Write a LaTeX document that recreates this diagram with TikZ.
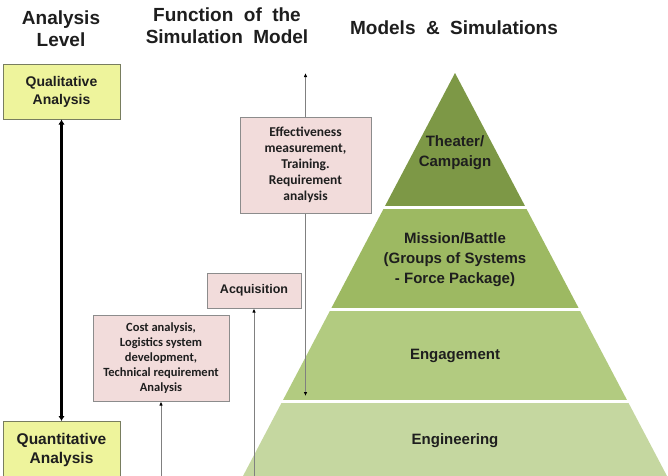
\documentclass[tikz,border=0pt]{standalone}
\usepackage{fontspec}
\setmainfont{Liberation Sans}
\newfontfamily\boxfont{Carlito}
\usetikzlibrary{arrows.meta}
\newcommand\hdrfont{\bfseries\fontsize{19}{22}\selectfont\spaceskip 0.55em\relax}
\definecolor{bandA}{RGB}{125,152,70}
\definecolor{bandB}{RGB}{157,185,98}
\definecolor{bandC}{RGB}{178,203,128}
\definecolor{bandD}{RGB}{197,215,160}
\definecolor{lvlfill}{RGB}{238,244,156}
\definecolor{lvlborder}{RGB}{120,125,95}
\definecolor{pinkfill}{RGB}{242,220,219}
\definecolor{pinkborder}{RGB}{140,140,140}
\definecolor{txt}{RGB}{30,30,30}
\begin{document}
\begin{tikzpicture}[x=1pt,y=-1pt,
  hdr/.style={font=\hdrfont, text=txt, align=center, inner sep=0},
  lvlbox/.style={draw=lvlborder, fill=lvlfill, line width=1pt, inner sep=0, align=center, text=txt},
  fnbox/.style={draw=pinkborder, fill=pinkfill, line width=1pt, inner sep=0, align=center, text=txt,
     font=\boxfont\bfseries\fontsize{12.5}{15}\selectfont},
  pyr/.style={font=\bfseries\fontsize{15}{20}\selectfont, text=txt, align=center, inner sep=0},
  thinarrow/.style={draw=gray, line width=1pt, -{Latex[length=4pt,width=3.5pt,color=black]}},
  thickarrow/.style={draw=black, line width=2.6pt, {Latex[length=5pt,width=6.5pt]}-{Latex[length=5pt,width=6.5pt]}},
  sep/.style={draw=white, line width=3pt}
]
\clip (0,0) rectangle (668,475);
\fill[white] (0,0) rectangle (668,475);

% headers
\node[hdr] (h1) at (61,28.5) {Analysis\\Level};
\node[hdr] (h2) at (227,26) {Function of the\\Simulation Model};
\node[hdr] (h3) at (454,28) {Models \& Simulations};

% pyramid
\fill[bandA] (455,73) -- (525.5,207) -- (384.5,207) -- cycle;
\fill[bandB] (384.5,207) -- (525.5,207) -- (579.1,309) -- (330.9,309) -- cycle;
\fill[bandC] (330.9,309) -- (579.1,309) -- (627.5,401) -- (282.5,401) -- cycle;
\fill[bandD] (282.5,401) -- (627.5,401) -- (669.1,480) -- (240.9,480) -- cycle;
\draw[sep] (382,207) -- (528,207);
\draw[sep] (328,309) -- (582,309);
\draw[sep] (280,401) -- (630,401);

\node[pyr] (theater) at (455,153) {Theater/\\Campaign};
\node[pyr] (mission) at (455,260) {Mission/Battle\\(Groups of Systems\\- Force Package)};
\node[pyr] (engage) at (455,356) {Engagement};
\node[pyr] (engin) at (455,441) {Engineering};

% analysis level boxes
\node[lvlbox, minimum width=117pt, minimum height=55pt, font=\bfseries\fontsize{14}{18}\selectfont]
  (qual) at (61.5,91.5) {Qualitative\\Analysis};
\node[lvlbox, minimum width=117pt, minimum height=56pt, anchor=north, font=\bfseries\fontsize{15.5}{19}\selectfont]
  (quant) at (61.5,421) {Quantitative\\Analysis};
\draw[thickarrow] (qual.south) -- (quant.north);

% function boxes
\node[fnbox, minimum width=131pt, minimum height=96pt, font=\boxfont\bfseries\fontsize{13.5}{16}\selectfont] (eff) at (305.5,165)
  {Effectiveness\\measurement,\\Training.\\Requirement\\analysis};
\node[fnbox, minimum width=94pt, minimum height=35pt, font=\bfseries\fontsize{12.5}{15}\selectfont] (acq) at (254,290.5) {Acquisition};
\node[fnbox, minimum width=136pt, minimum height=86pt] (cost) at (161,358)
  {Cost analysis,\\Logistics system\\development,\\Technical requirement\\Analysis};

\coordinate (effTop) at (305.5,73);
\coordinate (effBot) at (305.5,396);
\coordinate (acqBot) at (254,476);
\coordinate (costBot) at (161,476);
\draw[thinarrow] (eff.north) -- (effTop);
\draw[thinarrow] (eff.south) -- (effBot);
\draw[thinarrow] (acqBot) -- (acq.south);
\draw[thinarrow] (costBot) -- (cost.south);
\end{tikzpicture}
\end{document}
